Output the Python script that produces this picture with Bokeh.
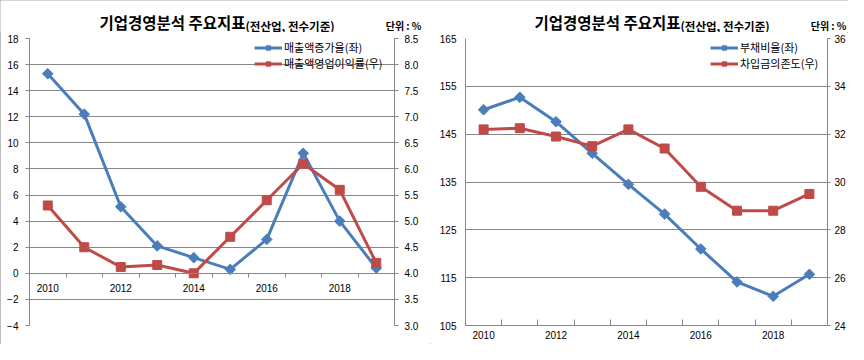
from bokeh.plotting import figure
from bokeh.layouts import row, column
from bokeh.models import (Range1d, LinearAxis, FixedTicker, Legend, LegendItem,
                          Label, NumeralTickFormatter)
from bokeh.embed import file_html
from bokeh.resources import INLINE

# ---------------- data ----------------
years = [2010, 2011, 2012, 2013, 2014, 2015, 2016, 2017, 2018, 2019]
sales_growth = [15.3, 12.2, 5.1, 2.1, 1.2, 0.3, 2.6, 9.2, 4.0, 0.4]          # 매출액증가율(좌)
op_margin = [5.3, 4.5, 4.12, 4.16, 4.0, 4.7, 5.4, 6.1, 5.6, 4.2]             # 매출액영업이익률(우)
debt_ratio = [150.1, 152.7, 147.6, 141.0, 134.5, 128.3, 121.0, 114.1, 111.1, 115.7]  # 부채비율(좌)
borrow_dep = [32.2, 32.25, 31.9, 31.5, 32.2, 31.4, 29.8, 28.8, 28.8, 29.5]   # 차입금의존도(우)

left1_ticks = [-4, -2, 0, 2, 4, 6, 8, 10, 12, 14, 16, 18]
right1_ticks = [3.0, 3.5, 4.0, 4.5, 5.0, 5.5, 6.0, 6.5, 7.0, 7.5, 8.0, 8.5]
left2_ticks = [105, 115, 125, 135, 145, 155, 165]
right2_ticks = [24, 26, 28, 30, 32, 34, 36]

title_main = "기업경영분석 주요지표"
title_sub = "(전산업, 전수기준)"
unit_text = "단위 : %"
labels1 = ["매출액증가율(좌)", "매출액영업이익률(우)"]
labels2 = ["부채비율(좌)", "차입금의존도(우)"]

BLUE = "#4A7EBB"
RED = "#BE4B48"
GRID = "#868686"
KFONT = "Noto Sans CJK KR"
NFONT = "Liberation Sans"

W1, W2 = 430, 418
HEAD_H = 32
CHART_H = 312
TOP = 6
BOTTOM = 19


def header_labels(h, title_x, unit_x):
    # x, y in screen pixels of the header frame (y measured from its bottom)
    h.add_layout(Label(x=title_x, y=HEAD_H - 21.6, x_units="screen", y_units="screen",
                       text=title_main, text_font=KFONT, text_font_size="15.5px",
                       text_font_style="bold", text_align="right",
                       text_baseline="middle", text_color="black"))
    h.add_layout(Label(x=title_x, y=HEAD_H - 25.0, x_units="screen", y_units="screen",
                       text=title_sub, text_font=KFONT, text_font_size="11.5px",
                       text_font_style="bold", text_align="left",
                       text_baseline="middle", text_color="black"))
    h.add_layout(Label(x=unit_x, y=HEAD_H - 25.3, x_units="screen", y_units="screen",
                       text=unit_text, text_font=KFONT, text_font_size="10px",
                       text_font_style="bold", text_align="right",
                       text_baseline="middle", text_color="black"))


header = figure(width=W1 + W2, height=HEAD_H, output_backend="svg", toolbar_location=None,
                x_axis_type=None, y_axis_type=None,
                x_range=Range1d(0, 1), y_range=Range1d(0, 1),
                min_border_left=0, min_border_right=0,
                min_border_top=0, min_border_bottom=0)
header.outline_line_color = None
header.background_fill_color = "white"
header.border_fill_color = "white"
header_labels(header, 245, 421)
header_labels(header, W1 + 250, W1 + 416)


def style_axis(ax, tick_out, standoff):
    ax.major_tick_in = 0
    ax.major_tick_out = tick_out
    ax.minor_tick_line_color = None
    ax.major_tick_line_color = GRID
    ax.axis_line_color = GRID
    ax.major_label_standoff = standoff
    ax.major_label_text_font = NFONT
    ax.major_label_text_font_size = "10px"
    ax.major_label_text_color = "black"


def make_chart(width, border_left, border_right, left_ticks, right_ticks,
               left_vals, right_vals, names, fixed_x, xtick_in, xtick_out,
               x_standoff, right_fmt, legend_loc, legend_spacing,
               yl_tick, yl_standoff, yr_tick, yr_standoff):
    n = len(years)
    xs = [i + 0.5 for i in range(n)]
    p = figure(width=width, height=CHART_H, output_backend="svg", toolbar_location=None,
               x_range=Range1d(0, n),
               y_range=Range1d(left_ticks[0], left_ticks[-1]),
               min_border_left=border_left, min_border_right=border_right,
               min_border_top=TOP, min_border_bottom=BOTTOM)
    p.extra_y_ranges = {"right": Range1d(right_ticks[0], right_ticks[-1])}
    p.outline_line_color = None
    p.background_fill_color = "white"
    p.border_fill_color = "white"

    # x axis (categories): labels at every second year, tick marks between years
    xa = p.xaxis[0]
    label_pos = [xs[i] for i in range(0, n, 2)]
    xa.ticker = FixedTicker(ticks=label_pos, minor_ticks=list(range(n + 1)))
    xa.major_label_overrides = {xs[i]: str(years[i]) for i in range(0, n, 2)}
    if fixed_x is not None:
        xa.fixed_location = fixed_x
    xa.major_tick_in = 0
    xa.major_tick_out = 0
    xa.minor_tick_in = xtick_in
    xa.minor_tick_out = xtick_out
    xa.minor_tick_line_color = GRID
    xa.axis_line_color = GRID
    xa.major_label_standoff = x_standoff
    xa.major_label_text_font = NFONT
    xa.major_label_text_font_size = "10px"
    xa.major_label_text_color = "black"

    ya = p.yaxis[0]
    ya.ticker = FixedTicker(ticks=left_ticks)
    style_axis(ya, yl_tick, yl_standoff)

    ra = LinearAxis(y_range_name="right", ticker=FixedTicker(ticks=right_ticks),
                    formatter=NumeralTickFormatter(format=right_fmt))
    style_axis(ra, yr_tick, yr_standoff)
    p.add_layout(ra, "right")

    p.xgrid.visible = False
    p.ygrid.ticker = FixedTicker(ticks=left_ticks)
    p.ygrid.grid_line_color = GRID
    p.ygrid.grid_line_width = 1

    l1 = p.line(xs, left_vals, line_color=BLUE, line_width=3)
    s1 = p.scatter(xs, left_vals, marker="square", angle=0.785398, size=7.5,
                   fill_color=BLUE, line_color=BLUE)
    l2 = p.line(xs, right_vals, y_range_name="right", line_color=RED, line_width=3)
    s2 = p.scatter(xs, right_vals, y_range_name="right", marker="square", size=9,
                   fill_color=RED, line_color=RED)

    legend = Legend(items=[LegendItem(label=names[0], renderers=[l1, s1]),
                           LegendItem(label=names[1], renderers=[l2, s2])],
                    location=legend_loc, orientation="vertical",
                    label_text_font=KFONT, label_text_font_size="11px",
                    label_text_color="black",
                    glyph_width=28, glyph_height=11, label_height=11,
                    label_standoff=2, spacing=legend_spacing, padding=0, margin=0,
                    border_line_color=None, background_fill_alpha=0)
    p.add_layout(legend)
    return p


p1 = make_chart(W1, 29, 36, left1_ticks, right1_ticks, sales_growth, op_margin,
                labels1, 0, 0, 4, 7, "0.0", (225, 254), -6, 4, 7, 4, 6)
p2 = make_chart(W2, 35, 18, left2_ticks, right2_ticks, debt_ratio, borrow_dep,
                labels2, None, 6, 0, 5, "0", (245, 254), -5, 0, 9, 3, 4)

layout = column(header, row(p1, p2, spacing=0), spacing=0,
                styles={"outline": "1px solid #a8a8a8", "outline-offset": "-1px"})
open("out.html", "w").write(file_html(layout, INLINE))
